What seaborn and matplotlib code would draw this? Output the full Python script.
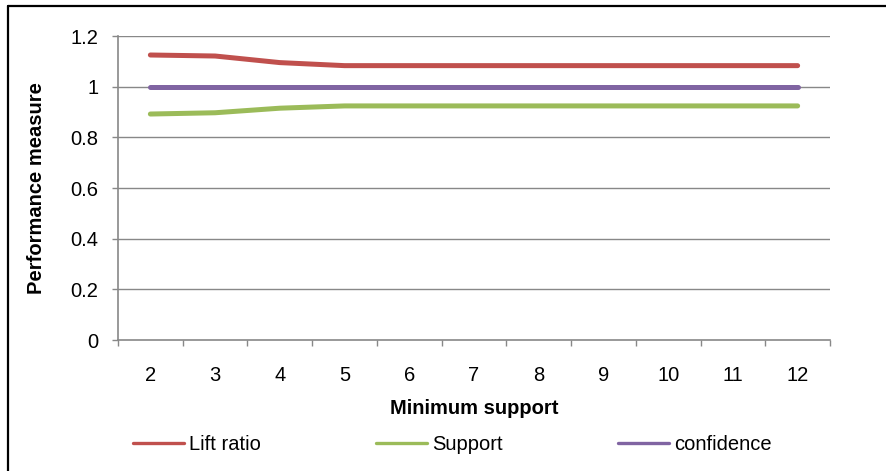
import matplotlib
matplotlib.use("Agg")
import matplotlib.pyplot as plt
from matplotlib.lines import Line2D
from matplotlib.ticker import FixedLocator
import seaborn as sns
import pandas as pd

# Values per minimum-support setting
min_support = [2, 3, 4, 5, 6, 7, 8, 9, 10, 11, 12]
lift_ratio = [1.125, 1.121, 1.095, 1.083, 1.083, 1.083, 1.083, 1.083, 1.083, 1.083, 1.083]
support = [0.892, 0.897, 0.915, 0.924, 0.924, 0.924, 0.924, 0.924, 0.924, 0.924, 0.924]
confidence = [1.0, 1.0, 1.0, 1.0, 1.0, 1.0, 1.0, 1.0, 1.0, 1.0, 1.0]
y_ticks = [0, 0.2, 0.4, 0.6, 0.8, 1.0, 1.2]
y_tick_labels = ["0", "0.2", "0.4", "0.6", "0.8", "1", "1.2"]

series_names = ["Lift ratio", "Support", "confidence"]
colors = {"Lift ratio": "#C0504D", "Support": "#9BBB59", "confidence": "#8064A2"}

pos = list(range(len(min_support)))
df = pd.concat([
    pd.DataFrame({"pos": pos, "value": lift_ratio, "series": "Lift ratio"}),
    pd.DataFrame({"pos": pos, "value": support, "series": "Support"}),
    pd.DataFrame({"pos": pos, "value": confidence, "series": "confidence"}),
])

sns.set_theme(style="white")
plt.rcParams["font.family"] = ["Liberation Sans", "DejaVu Sans"]
plt.rcParams["text.color"] = "black"
plt.rcParams["axes.labelcolor"] = "black"
plt.rcParams["xtick.color"] = "black"
plt.rcParams["ytick.color"] = "black"

fig = plt.figure(figsize=(8.86, 4.71), dpi=100)
ax = fig.add_axes([118 / 886, 1 - 340 / 471, 712 / 886, 304 / 471])

grid_color = "#888888"
for y in y_ticks[1:]:
    ax.axhline(y, color=grid_color, lw=1.0, zorder=0)

sns.lineplot(data=df, x="pos", y="value", hue="series", hue_order=series_names,
             palette=colors, linewidth=3.6, ax=ax, legend=False,
             solid_capstyle="round", solid_joinstyle="round", zorder=3)

ax.set_xlim(-0.5, len(min_support) - 0.5)
ax.set_ylim(0, 1.2)

ax.set_xticks(pos)
ax.set_xticklabels([str(v) for v in min_support], fontsize=14.5, color="black")
ax.xaxis.set_minor_locator(FixedLocator([p - 0.5 for p in pos] + [pos[-1] + 0.5]))
ax.tick_params(axis="x", which="major", length=0, pad=19)
ax.tick_params(axis="x", which="minor", length=4, width=1.0, color=grid_color, direction="out", bottom=True)

ax.set_yticks(y_ticks)
ax.set_yticklabels(y_tick_labels, fontsize=14.5, color="black")
ax.tick_params(axis="y", which="major", length=4, width=1.0, color=grid_color, direction="out", pad=10, left=True)

for side in ["top", "right"]:
    ax.spines[side].set_visible(False)
for side in ["left", "bottom"]:
    ax.spines[side].set_color(grid_color)
    ax.spines[side].set_linewidth(1.2)

ax.set_xlabel("Minimum support", fontsize=14.5, fontweight="bold", color="black")
ax.set_ylabel("Performance measure", fontsize=14.5, fontweight="bold", color="black")
ax.xaxis.set_label_coords(0.5, -0.195)
ax.yaxis.set_label_coords(-0.101, 0.5)

# One legend entry per column, evenly spaced
legend_x = [133 / 886, 376 / 886, 618 / 886]
for name, lx in zip(series_names, legend_x):
    handle = Line2D([0], [0], color=colors[name], lw=2.4)
    leg = fig.legend([handle], [name], loc="center left", bbox_to_anchor=(lx, 1 - 445 / 471),
                     frameon=False, fontsize=14.5, handlelength=2.55, handletextpad=0.25,
                     borderpad=0, borderaxespad=0)
    for t in leg.get_texts():
        t.set_color("black")

# Chart area border (top and left edges)
fig.add_artist(Line2D([8 / 886, 1.0], [1 - 6 / 471, 1 - 6 / 471], color="black", lw=1.6,
                      transform=fig.transFigure))
fig.add_artist(Line2D([8 / 886, 8 / 886], [0, 1 - 6 / 471], color="black", lw=1.6,
                      transform=fig.transFigure))

fig.savefig("out.png", dpi=100)
